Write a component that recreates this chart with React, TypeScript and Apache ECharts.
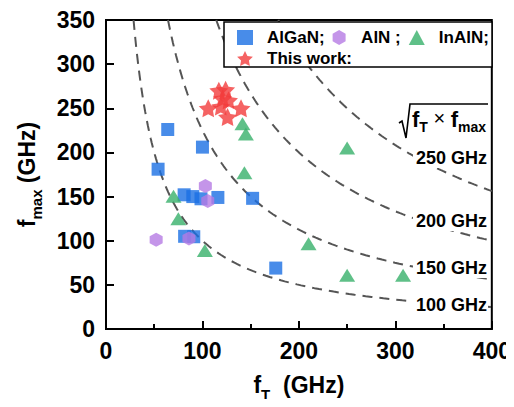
import React, { useEffect, useRef } from "react";
import * as echarts from "echarts";

// fT (GHz), fmax (GHz) pairs for each device family
const alganPoints: [number, number][] = [
  [64, 226], [100, 206], [54, 181], [81, 152], [90, 150], [98.5, 147.5],
  [116, 149], [152, 148], [81.5, 105], [91, 104.5], [176, 69],
];
const alnPoints: [number, number][] = [
  [103, 162], [105.5, 145], [52, 101], [86, 102.5],
];
const inalnPoints: [number, number][] = [
  [141.5, 232.5], [145, 221], [250, 205], [143.5, 177], [70, 150.5],
  [75, 125], [102.5, 89], [210, 96.5], [250, 61], [308, 61],
];
const thisWorkPoints: [number, number][] = [
  [117, 270], [124, 271], [121, 261], [127, 259], [119, 252],
  [106, 250], [140, 250], [126, 240],
];

// constant sqrt(fT * fmax) contours, GHz
const isoProducts = [100, 150, 200, 250];
const isoLabels = ["100 GHz", "150 GHz", "200 GHz", "250 GHz"];

const xMin = 0, xMax = 400, xStep = 100;
const yMin = 0, yMax = 350, yStep = 50;

const FONT = "'Liberation Sans', Arial, sans-serif";
const BLUE = "#1a6fe3";
const PURPLE = "#b57be3";
const GREEN = "#37b06a";
const RED = "#f23c3c";

const HEX = "path://M0,-1 L0.866,-0.5 L0.866,0.5 L0,1 L-0.866,0.5 L-0.866,-0.5 Z";
const STAR =
  "path://M50,0 L64.7,29.8 L97.6,34.5 L73.8,57.7 L79.4,90.5 L50,75 L20.6,90.5 L26.2,57.7 L2.4,34.5 L35.3,29.8 Z";

// fmax = C^2 / fT, sampled from the top edge of the plot to the right edge
function contour(c: number): [number, number][] {
  const pts: [number, number][] = [];
  const x0 = (c * c) / yMax;
  const n = 120;
  for (let i = 0; i <= n; i++) {
    const x = x0 * Math.pow(xMax / x0, i / n);
    pts.push([x, (c * c) / x]);
  }
  return pts;
}

// label boxes for the contours (right side of the plot)
const isoLabelY = [305, 268, 221, 158];

export default function App() {
  const ref = useRef<HTMLDivElement>(null);

  useEffect(() => {
    if (!ref.current) return;
    const chart = echarts.init(ref.current, undefined, { renderer: "svg" });

    const axisCommon = {
      axisLine: { show: true, lineStyle: { color: "#000", width: 2 } },
      axisTick: { show: true, inside: true, length: 8, lineStyle: { color: "#000", width: 2 } },
      splitLine: { show: false },
      axisLabel: { color: "#000", fontSize: 23, fontWeight: "bold", fontFamily: FONT },
    };

    const nameRich = {
      a: { fontSize: 23, fontWeight: "bold", fontFamily: FONT, color: "#000", lineHeight: 28, verticalAlign: "top" },
      s: { fontSize: 15, fontWeight: "bold", fontFamily: FONT, color: "#000", verticalAlign: "top", padding: [14, 0, 0, 0] },
    };

    const contourSeries = isoProducts.map((c) => ({
      type: "line",
      name: `${c} GHz`,
      data: contour(c),
      showSymbol: false,
      silent: true,
      smooth: false,
      z: 1,
      lineStyle: { color: "#555", width: 2, type: [10, 7] },
    }));

    const graphics: any[] = isoLabels.map((t, i) => ({
      type: "text",
      x: 488,
      y: isoLabelY[i],
      z: 100,
      style: {
        text: t,
        fontSize: 18,
        fontWeight: "bold",
        fontFamily: FONT,
        fill: "#000",
        align: "right",
        verticalAlign: "middle",
        backgroundColor: "#fff",
        padding: [1, 1, 1, 3],
      },
    }));

    // legend frame
    graphics.push({
      type: "rect",
      z: 10,
      shape: { x: 224, y: 22, width: 268, height: 45 },
      style: { fill: "#fff", stroke: "#000", lineWidth: 1.5 },
    });

    // radical sign over fT x fmax
    graphics.push({
      type: "polyline",
      z: 100,
      shape: { points: [[399, 123], [402, 121], [406, 138], [410, 104], [488, 104]] },
      style: { stroke: "#000", lineWidth: 1.6, fill: "none" },
    });
    graphics.push({
      type: "text",
      x: 412,
      y: 121,
      z: 100,
      style: {
        text: "{f|f}{s|T}{x| × }{f|f}{s|max}",
        verticalAlign: "middle",
        align: "left",
        rich: {
          f: { fontSize: 22, fontWeight: "bold", fontFamily: FONT, fill: "#000", lineHeight: 26, verticalAlign: "top" },
          s: { fontSize: 14, fontWeight: "bold", fontFamily: FONT, fill: "#000", verticalAlign: "top", padding: [12, 0, 0, 0] },
          x: { fontSize: 20, fontFamily: FONT, fill: "#000", lineHeight: 26, verticalAlign: "top" },
        },
      },
    });

    chart.setOption({
      animation: false,
      backgroundColor: "#fff",
      grid: {
        left: 106, right: 21, top: 20, bottom: 77,
        show: true, borderColor: "#000", borderWidth: 2, backgroundColor: "transparent",
      },
      xAxis: {
        type: "value",
        min: xMin, max: xMax, interval: xStep,
        ...axisCommon,
        axisLabel: { ...axisCommon.axisLabel, margin: 10 },
        minorTick: { show: true, splitNumber: 2, length: 5, lineStyle: { color: "#000", width: 2 } },
        name: "{a|f}{s|T}{a|  (GHz)}",
        nameLocation: "middle",
        nameGap: 44,
        nameTextStyle: { rich: nameRich },
      },
      yAxis: {
        type: "value",
        min: yMin, max: yMax, interval: yStep,
        ...axisCommon,
        axisLabel: { ...axisCommon.axisLabel, margin: 11 },
        name: "{a|f}{s|max}{a| (GHz)}",
        nameLocation: "middle",
        nameGap: 62,
        nameTextStyle: { rich: nameRich },
      },
      legend: {
        data: ["AlGaN;", "AlN ;", "InAlN;", "This work:"],
        left: 237,
        top: 29,
        width: 270,
        padding: 0,
        itemGap: 4,
        itemWidth: 16,
        itemHeight: 15,
        z: 50,
        textStyle: {
          fontSize: 17, fontWeight: "bold", fontFamily: FONT, color: "#000",
          lineHeight: 16,
          padding: [0, 4, 0, 9],
        },
      },
      graphic: graphics,
      series: [
        ...contourSeries,
        { type: "scatter", name: "AlGaN;", data: alganPoints, symbol: "rect", symbolSize: 13, itemStyle: { color: BLUE }, z: 3 },
        { type: "scatter", name: "AlN ;", data: alnPoints, symbol: HEX, symbolSize: [13, 14], itemStyle: { color: PURPLE }, z: 4 },
        { type: "scatter", name: "InAlN;", data: inalnPoints, symbol: "triangle", symbolSize: [16, 13], itemStyle: { color: GREEN }, z: 5 },
        { type: "scatter", name: "This work:", data: thisWorkPoints, symbol: STAR, symbolSize: [19, 18], itemStyle: { color: RED }, z: 6 },
      ],
    });

    return () => chart.dispose();
  }, []);

  return <div ref={ref} style={{ width: 514, height: 407, margin: -8 }} />;
}
